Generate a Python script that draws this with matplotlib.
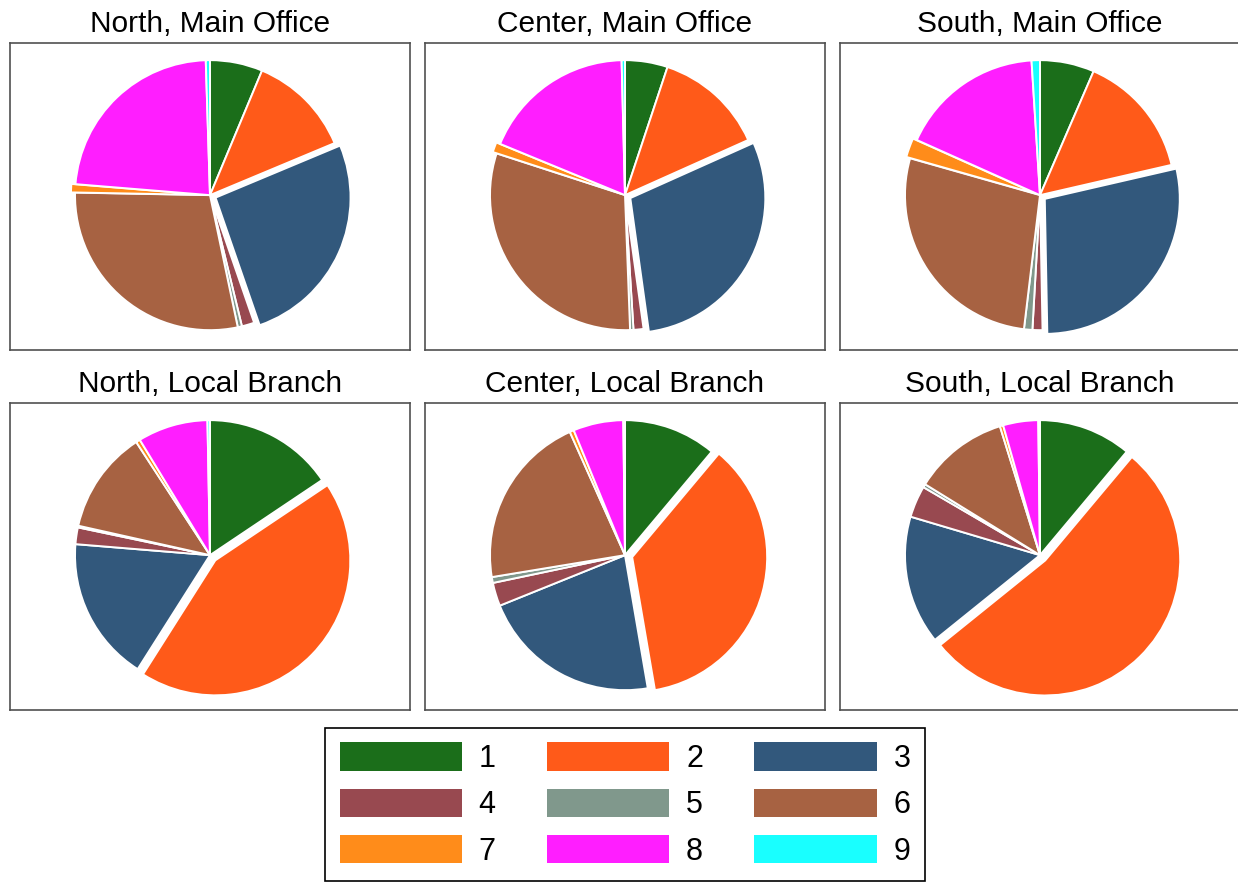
import matplotlib.pyplot as plt

plt.rcParams["font.family"] = ["Liberation Sans", "DejaVu Sans"]

W, H = 1238, 882

categories = ["1", "2", "3", "4", "5", "6", "7", "8", "9"]
colors = ["#1b6e1a", "#ff5a19", "#32587c", "#984950", "#80988c",
          "#a76242", "#ff8c1a", "#ff1eff", "#19ffff"]

titles = ["North, Main Office", "Center, Main Office", "South, Main Office",
          "North, Local Branch", "Center, Local Branch", "South, Local Branch"]

# shares in percent
north_main = [6.3, 12.4, 26.0, 1.5, 0.5, 28.6, 1.0, 23.2, 0.5]
center_main = [5.1, 13.2, 29.5, 1.2, 0.4, 30.6, 1.2, 18.4, 0.4]
south_main = [6.5, 14.9, 28.3, 1.2, 1.0, 27.5, 2.3, 17.3, 1.0]
north_branch = [15.6, 43.4, 17.3, 2.0, 0.2, 12.3, 0.5, 8.4, 0.3]
center_branch = [11.1, 36.2, 21.6, 2.8, 0.7, 20.9, 0.5, 6.0, 0.2]
south_branch = [11.1, 53.1, 15.4, 3.8, 0.4, 11.4, 0.4, 4.2, 0.2]

shares = [north_main, center_main, south_main,
          north_branch, center_branch, south_branch]

explode_main = [0, 0, 0.045, 0, 0, 0, 0.03, 0, 0]
explode_branch = [0, 0.055, 0, 0, 0, 0, 0, 0, 0]

fig = plt.figure(figsize=(W / 100, H / 100), dpi=100)

lefts = [10, 425, 840]
tops = [43, 403]
box_w, box_h = 400, 307
r_px = 135

handles = None
for i, (vals, title) in enumerate(zip(shares, titles)):
    row, col = divmod(i, 3)
    left, top = lefts[col], tops[row]
    ax = fig.add_axes([left / W, 1 - (top + box_h) / H, box_w / W, box_h / H])
    wedges, _ = ax.pie(vals, colors=colors, startangle=90, counterclock=False,
                       explode=explode_main if row == 0 else explode_branch,
                       wedgeprops=dict(edgecolor="white", linewidth=1.4),
                       frame=True)
    if handles is None:
        handles = wedges
    ax.set_aspect("auto")
    hx = box_w / 2 / r_px
    hy = box_h / 2 / r_px
    ax.set_xlim(-hx, hx)
    ax.set_ylim(-hy - 0.01, hy - 0.01)
    ax.set_xticks([])
    ax.set_yticks([])
    for s in ax.spines.values():
        s.set_color("#505050")
        s.set_linewidth(1.2)
    ax.set_title(title, fontsize=21.5, pad=8)

# legend fills column by column, so reorder to read 1 2 3 across the rows
order = [0, 3, 6, 1, 4, 7, 2, 5, 8]
leg = fig.legend([handles[k] for k in order], [categories[k] for k in order],
                 loc="center", ncol=3,
                 bbox_to_anchor=(625 / W, 1 - 804.5 / H),
                 fontsize=22, handlelength=4.0, handleheight=1.07,
                 handletextpad=0.55, columnspacing=1.68, labelspacing=0.47,
                 borderpad=0.47, fancybox=False, framealpha=1,
                 edgecolor="black")
leg.get_frame().set_linewidth(1.2)
for p in leg.get_patches():
    p.set_edgecolor("none")

fig.savefig("out.png", dpi=100)
